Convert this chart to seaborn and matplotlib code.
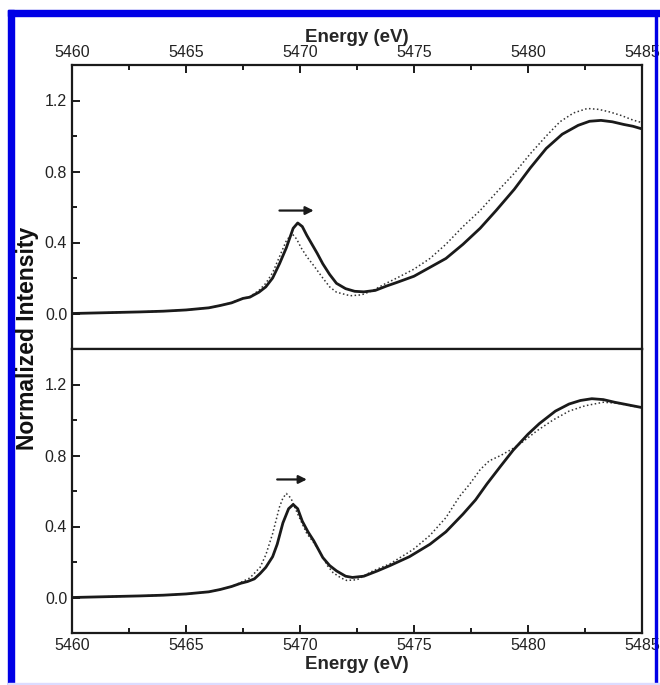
import matplotlib
matplotlib.use("Agg")
import matplotlib.pyplot as plt
import numpy as np
import pandas as pd
import seaborn as sns
from matplotlib.patches import Rectangle
from matplotlib.ticker import MultipleLocator

# --- data (energy in eV, normalized intensity) ---
top_solid_e = [5460, 5461, 5462, 5463, 5464, 5465, 5466, 5466.5, 5467, 5467.5, 5467.8, 5468.2,
               5468.5, 5468.8, 5469.1, 5469.4, 5469.7, 5469.9, 5470.1, 5470.3, 5470.75, 5471.0,
               5471.3, 5471.6, 5472.0, 5472.4, 5472.8, 5473.3, 5473.8, 5474.25, 5475.0, 5475.7,
               5476.4, 5477.15, 5477.9, 5478.6, 5479.4, 5480.1, 5480.8, 5481.5, 5482.2, 5482.7,
               5483.2, 5483.7, 5484.2, 5484.6, 5485]
top_solid_i = [0.000, 0.003, 0.006, 0.009, 0.013, 0.020, 0.032, 0.045, 0.060, 0.085, 0.092, 0.12,
               0.15, 0.20, 0.28, 0.37, 0.48, 0.51, 0.49, 0.44, 0.34, 0.28,
               0.22, 0.17, 0.14, 0.125, 0.122, 0.13, 0.155, 0.175, 0.21, 0.26,
               0.31, 0.39, 0.48, 0.58, 0.70, 0.82, 0.93, 1.01, 1.06, 1.083,
               1.088, 1.08, 1.065, 1.055, 1.04]

top_dot_e = [5460, 5461, 5462, 5463, 5464, 5465, 5466, 5466.5, 5467, 5467.5, 5467.8, 5468.2,
             5468.5, 5468.8, 5469.1, 5469.4, 5469.65, 5469.85, 5470.05, 5470.3, 5470.6, 5471.0,
             5471.3, 5471.6, 5472.2, 5472.7, 5473.2, 5473.7, 5474.25, 5475.0, 5475.7, 5476.4,
             5477.15, 5477.9, 5478.6, 5479.4, 5480.1, 5480.8, 5481.4, 5482.0, 5482.6, 5483.1,
             5483.6, 5484.1, 5484.6, 5485]
top_dot_i = [0.000, 0.003, 0.006, 0.009, 0.013, 0.020, 0.032, 0.045, 0.062, 0.085, 0.095, 0.13,
             0.17, 0.23, 0.32, 0.41, 0.45, 0.42, 0.37, 0.32, 0.27, 0.20,
             0.15, 0.12, 0.10, 0.105, 0.13, 0.165, 0.20, 0.25, 0.31, 0.39,
             0.49, 0.58, 0.68, 0.79, 0.90, 1.00, 1.08, 1.13, 1.155, 1.15,
             1.135, 1.115, 1.09, 1.075]

bot_solid_e = [5460, 5461, 5462, 5463, 5464, 5465, 5466, 5466.5, 5467, 5467.4, 5467.7, 5468.0,
               5468.25, 5468.5, 5468.8, 5469.0, 5469.25, 5469.5, 5469.7, 5469.9, 5470.1, 5470.35,
               5470.6, 5471.0, 5471.3, 5471.6, 5472.0, 5472.3, 5472.8, 5473.4, 5473.95, 5474.8,
               5475.7, 5476.4, 5477.15, 5477.7, 5478.2, 5478.8, 5479.35, 5480.0, 5480.5, 5481.2,
               5481.8, 5482.3, 5482.8, 5483.3, 5483.8, 5484.4, 5485]
bot_solid_i = [0.000, 0.003, 0.006, 0.009, 0.013, 0.020, 0.032, 0.045, 0.062, 0.080, 0.090, 0.105,
               0.135, 0.17, 0.23, 0.30, 0.42, 0.50, 0.524, 0.50, 0.43, 0.37,
               0.32, 0.225, 0.18, 0.15, 0.12, 0.113, 0.12, 0.15, 0.18, 0.23,
               0.30, 0.37, 0.47, 0.55, 0.64, 0.74, 0.83, 0.92, 0.98, 1.05,
               1.09, 1.11, 1.12, 1.115, 1.10, 1.085, 1.07]

bot_dot_e = [5460, 5461, 5462, 5463, 5464, 5465, 5466, 5466.5, 5467, 5467.4, 5467.8, 5468.25,
             5468.5, 5468.8, 5469.1, 5469.25, 5469.4, 5469.6, 5469.9, 5470.3, 5470.6, 5470.9,
             5471.2, 5471.45, 5471.8, 5472.05, 5472.5, 5473.2, 5473.95, 5474.96, 5475.7, 5476.4,
             5477.0, 5477.45, 5477.9, 5478.3, 5478.8, 5479.35, 5479.7, 5480.4, 5481.1, 5481.8,
             5482.5, 5483.3, 5483.9, 5484.5, 5485]
bot_dot_i = [0.000, 0.003, 0.006, 0.009, 0.013, 0.020, 0.032, 0.045, 0.062, 0.085, 0.11, 0.17,
             0.24, 0.36, 0.51, 0.56, 0.586, 0.56, 0.47, 0.36, 0.31, 0.25,
             0.18, 0.14, 0.11, 0.096, 0.10, 0.15, 0.19, 0.27, 0.35, 0.45,
             0.57, 0.64, 0.72, 0.77, 0.80, 0.84, 0.87, 0.94, 1.00, 1.05,
             1.08, 1.10, 1.095, 1.08, 1.07]

# arrows marking the edge shift (start, end energy; height)
top_arrow = (5469.1, 5470.6, 0.58)
bot_arrow = (5469.0, 5470.3, 0.665)

x_ticks = [5460, 5465, 5470, 5475, 5480, 5485]
y_ticks = [0.0, 0.4, 0.8, 1.2]

sns.set_style("ticks")
plt.rcParams['font.family'] = ['Liberation Sans', 'DejaVu Sans']

W, H = 660, 685
fig = plt.figure(figsize=(W / 100, H / 100), dpi=100)

# blue frame around the figure
blue = '#0000e6'
fig.patches.append(Rectangle((8 / W, 0), 6 / W, (H - 10) / H, transform=fig.transFigure,
                             color=blue, zorder=0))
fig.patches.append(Rectangle((8 / W, (H - 16) / H), (W - 8) / W, 6 / H, transform=fig.transFigure,
                             color=blue, zorder=0))
fig.patches.append(Rectangle((655 / W, 0), 1.5 / W, (H - 16) / H, transform=fig.transFigure,
                             color=blue, zorder=0))
fig.patches.append(Rectangle((8 / W, 0), (W - 8) / W, 2 / H, transform=fig.transFigure,
                             color='#dcdcff', zorder=0))

left, right = 72 / W, 642 / W
top_y, mid_y, bot_y = 1 - 65 / H, 1 - 349 / H, 1 - 633 / H
ax_top = fig.add_axes([left, mid_y, right - left, top_y - mid_y])
ax_bot = fig.add_axes([left, bot_y, right - left, mid_y - bot_y])

panels = [
    (ax_top, top_solid_e, top_solid_i, top_dot_e, top_dot_i, top_arrow),
    (ax_bot, bot_solid_e, bot_solid_i, bot_dot_e, bot_dot_i, bot_arrow),
]

for ax, se, si, de, di, arr in panels:
    df_s = pd.DataFrame({"energy": se, "intensity": si})
    df_d = pd.DataFrame({"energy": de, "intensity": di})
    sns.lineplot(data=df_d, x="energy", y="intensity", ax=ax, color="#333333",
                 linestyle=(0, (1, 1.6)), linewidth=1.1, sort=False, estimator=None)
    sns.lineplot(data=df_s, x="energy", y="intensity", ax=ax, color="#1a1a1a",
                 linewidth=2.0, sort=False, estimator=None)
    ax.annotate("", xy=(arr[1], arr[2]), xytext=(arr[0], arr[2]),
                arrowprops=dict(arrowstyle="-|>", color="#1a1a1a", lw=1.6,
                                mutation_scale=12, shrinkA=0, shrinkB=0))
    ax.set_xlim(5460, 5485)
    ax.set_ylim(-0.2, 1.4)
    ax.set_xticks(x_ticks)
    ax.xaxis.set_minor_locator(MultipleLocator(2.5))
    ax.set_yticks(y_ticks)
    ax.yaxis.set_major_formatter(matplotlib.ticker.FormatStrFormatter('%.1f'))
    ax.yaxis.set_minor_locator(MultipleLocator(0.2))
    ax.set_ylabel("")
    for sp in ax.spines.values():
        sp.set_visible(True)
        sp.set_linewidth(1.6)
        sp.set_color("#1a1a1a")
    ax.tick_params(which="both", direction="in", width=1.4, color="#1a1a1a",
                   labelsize=11.5, labelcolor="#222222", right=False)
    ax.tick_params(which="major", length=6)
    ax.tick_params(which="minor", length=3.5)

ax_top.tick_params(axis="x", which="both", top=True, bottom=False, labeltop=True, labelbottom=False)
ax_top.xaxis.set_label_position("top")
ax_top.set_xlabel("Energy (eV)", fontsize=13.5, fontweight="bold", labelpad=2)

ax_bot.tick_params(axis="x", which="both", top=False, bottom=True, labeltop=False, labelbottom=True)
ax_bot.set_xlabel("Energy (eV)", fontsize=13.5, fontweight="bold", labelpad=2)

fig.text(28 / W, 1 - 338 / H, "Normalized Intensity", rotation=90, ha="center", va="center",
         fontsize=16.5, fontweight="bold", color="#111111")

fig.savefig("out.png", dpi=100, facecolor="white")
